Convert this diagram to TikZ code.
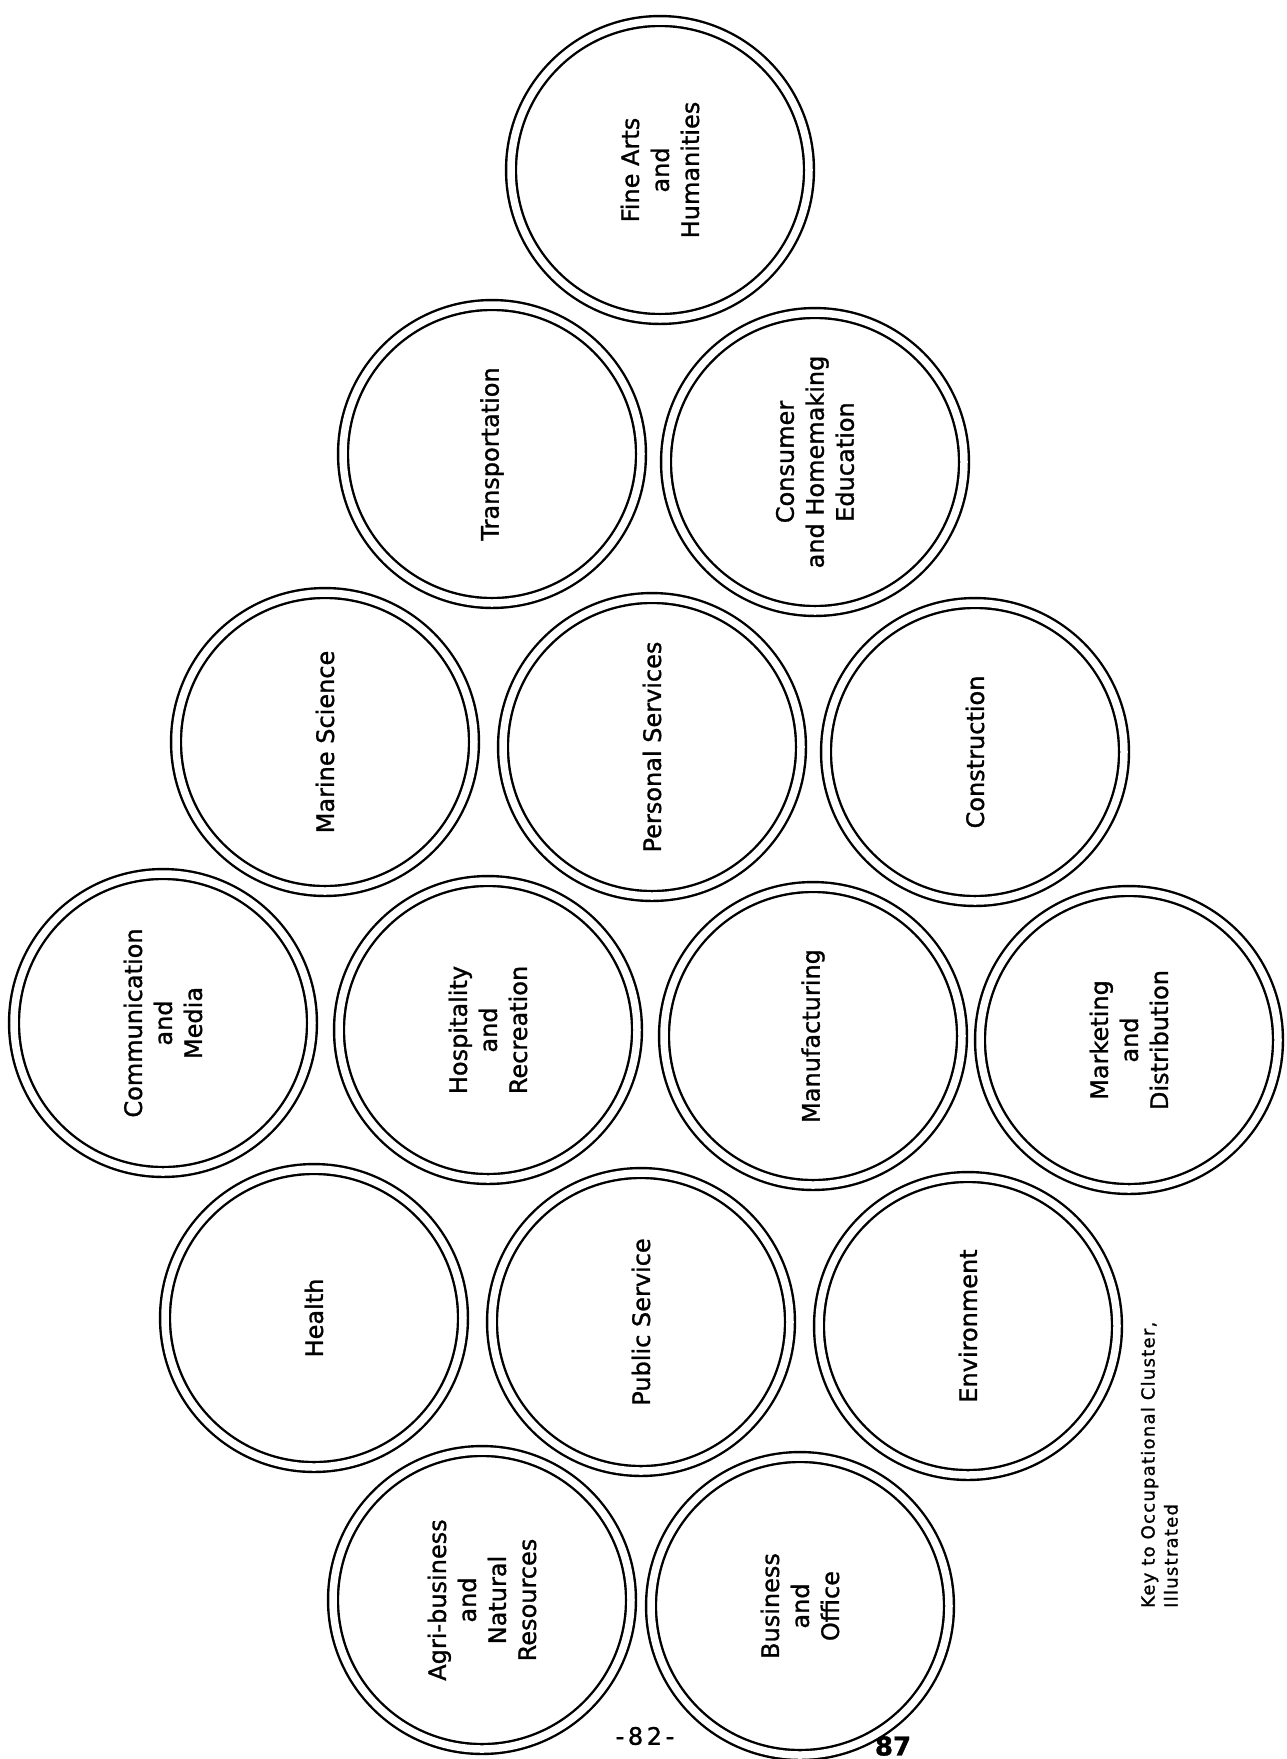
\documentclass[tikz,border=0pt]{standalone}
\usepackage{fontspec}
\setmainfont{DejaVu Sans}[FakeBold=1.2]
\begin{document}
\begin{tikzpicture}[x=1pt,y=-1pt,
  cluster/.style={circle, draw=black, line width=2.4pt, double=white, double distance=7.5pt,
    minimum size=298pt, inner sep=0pt, align=center, rotate=90,
    font=\fontsize{24}{30}\selectfont},
  keytext/.style={rotate=90, anchor=south west, inner sep=0pt, align=left,
    font=\fontsize{18}{23}\selectfont\addfontfeature{LetterSpace=7}}]
\fill[white] (0,0) rectangle (1287,1759);
\useasboundingbox (0,0) rectangle (1287,1759);
% row 1
\node[cluster] (fine) at (660,170) {Fine Arts\\and\\Humanities};
% row 2
\node[cluster] (trans) at (492,454) {Transportation};
\node[cluster] (cons) at (815,462) {Consumer\\and Homemaking\\Education};
% row 3
\node[cluster] (marine) at (325,742) {Marine Science};
\node[cluster] (pers) at (652,747) {Personal Services};
\node[cluster] (constr) at (975,752) {Construction};
% row 4
\node[cluster] (comm) at (163,1023) {Communication\\and\\Media};
\node[cluster] (hosp) at (488,1030) {Hospitality\\and\\Recreation};
\node[cluster] (manu) at (813,1036) {Manufacturing};
\node[cluster] (mark) at (1129,1040) {Marketing\\and\\Distribution};
% row 5
\node[cluster] (health) at (314,1318) {Health};
\node[cluster] (public) at (641,1322) {Public Service};
\node[cluster] (env) at (968,1326) {Environment};
% row 6
\node[cluster] (agri) at (482,1600) {Agri-business\\and\\Natural\\Resources};
\node[cluster] (bus) at (800,1606) {Business\\and\\Office};
% key
\node[keytext] (key) at (1178,1608) {Key to Occupational Cluster,\\Illustrated};
% page number
\node[font=\fontsize{24}{24}\selectfont\addfontfeature{LetterSpace=15}] (page) at (645,1736) {-82-};
\node[font=\bfseries\fontsize{26}{26}\selectfont, anchor=south, inner sep=0pt] (stamp) at (893,1756) {87};
\end{tikzpicture}
\end{document}
